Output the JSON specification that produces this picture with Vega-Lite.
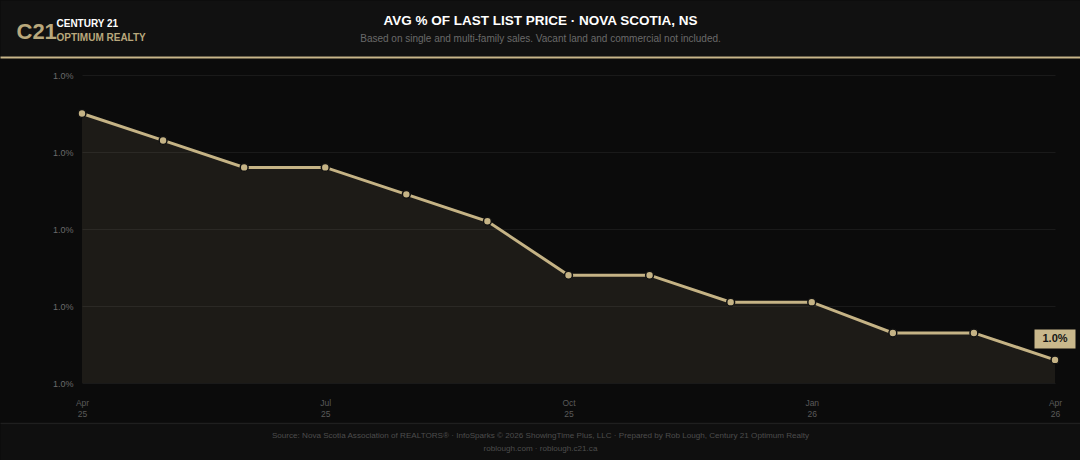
{
  "$schema": "https://vega.github.io/schema/vega-lite/v6.json",
  "width": 973,
  "height": 308,
  "autosize": {"type": "none"},
  "padding": {"left": 82, "top": 75, "right": 25, "bottom": 77},
  "background": "#0b0b0b",
  "config": {"view": {"stroke": null}, "font": "Liberation Sans"},
  "data": {
    "values": [
      {"month": "Apr 25", "pct": 0.010030},
      {"month": "May 25", "pct": 0.010023},
      {"month": "Jun 25", "pct": 0.010016},
      {"month": "Jul 25", "pct": 0.010016},
      {"month": "Aug 25", "pct": 0.010009},
      {"month": "Sep 25", "pct": 0.010002},
      {"month": "Oct 25", "pct": 0.009988},
      {"month": "Nov 25", "pct": 0.009988},
      {"month": "Dec 25", "pct": 0.009981},
      {"month": "Jan 26", "pct": 0.009981},
      {"month": "Feb 26", "pct": 0.009973},
      {"month": "Mar 26", "pct": 0.009973},
      {"month": "Apr 26", "pct": 0.009966}
    ]
  },
  "layer": [
    {
      "layer": [
        {
          "mark": {"type": "area", "color": "#c5b385", "opacity": 0.1},
          "encoding": {
            "x": {
              "field": "month",
              "type": "ordinal",
              "sort": null,
              "scale": {"type": "point", "padding": 0},
              "axis": {
                "orient": "bottom",
                "title": null,
                "labelExpr": "indexof(['Apr 25','Jul 25','Oct 25','Jan 26','Apr 26'], datum.value) >= 0 ? split(datum.value, ' ') : ''",
                "labelAngle": 0,
                "labelOverlap": false,
                "labelFlush": false,
                "labelBound": false,
                "grid": false,
                "domain": false,
                "ticks": false,
                "labelPadding": 15,
                "labelColor": "#5a5a5a",
                "labelFontSize": 8.5,
                "labelLineHeight": 11
              }
            },
            "y": {
              "field": "pct",
              "type": "quantitative",
              "scale": {"domain": [0.00996, 0.01004], "zero": false, "nice": false},
              "axis": {
                "orient": "left",
                "values": [0.00996, 0.00998, 0.01, 0.01002, 0.01004],
                "format": ".1%",
                "grid": true,
                "gridColor": "#1a1a1a",
                "domain": false,
                "ticks": false,
                "labelColor": "#6a6a6a",
                "labelFontSize": 9,
                "labelPadding": 9,
                "title": "C21",
                "titleAngle": 0,
                "titleX": -66,
                "titleY": -37,
                "titleAlign": "left",
                "titleBaseline": "alphabetic",
                "titleFontSize": 22,
                "titleFontWeight": "bold",
                "titleColor": "#b9a87c"
              }
            },
            "y2": {"datum": 0.00996}
          }
        },
        {
          "mark": {"type": "line", "color": "#c5b385", "strokeWidth": 3},
          "encoding": {
            "x": {"field": "month", "type": "ordinal", "sort": null},
            "y": {
              "field": "pct",
              "type": "quantitative",
              "axis": {
                "orient": "left",
                "grid": false,
                "domain": false,
                "ticks": false,
                "labels": false,
                "title": "CENTURY 21",
                "titleAngle": 0,
                "titleX": -26,
                "titleY": -49,
                "titleAlign": "left",
                "titleBaseline": "alphabetic",
                "titleFontSize": 10,
                "titleFontWeight": "bold",
                "titleColor": "#ffffff"
              }
            }
          }
        },
        {
          "mark": {"type": "point", "filled": true, "fill": "#c5b385", "stroke": "#111111", "strokeWidth": 1.5, "size": 62, "opacity": 1},
          "encoding": {
            "x": {"field": "month", "type": "ordinal", "sort": null},
            "y": {
              "field": "pct",
              "type": "quantitative",
              "axis": {
                "orient": "left",
                "grid": false,
                "domain": false,
                "ticks": false,
                "labels": false,
                "title": "OPTIMUM REALTY",
                "titleAngle": 0,
                "titleX": -26,
                "titleY": -35,
                "titleAlign": "left",
                "titleBaseline": "alphabetic",
                "titleFontSize": 10,
                "titleFontWeight": "bold",
                "titleColor": "#b9a87c"
              }
            }
          }
        },
        {
          "transform": [{"filter": "datum.month == 'Apr 26'"}],
          "mark": {"type": "rect", "width": 41, "height": 19, "yOffset": -21, "color": "#c9b88c"},
          "encoding": {
            "x": {"field": "month", "type": "ordinal", "sort": null},
            "y": {"field": "pct", "type": "quantitative", "axis": null}
          }
        },
        {
          "transform": [{"filter": "datum.month == 'Apr 26'"}],
          "mark": {"type": "text", "yOffset": -21, "fontWeight": "bold", "fontSize": 11, "color": "#151515", "baseline": "middle"},
          "encoding": {
            "x": {"field": "month", "type": "ordinal", "sort": null},
            "y": {"field": "pct", "type": "quantitative", "axis": null},
            "text": {"field": "pct", "format": ".1%"}
          }
        }
      ],
      "resolve": {"axis": {"y": "independent"}}
    },
    {
      "mark": {"type": "point", "opacity": 0},
      "encoding": {
        "x": {
          "field": "month",
          "type": "ordinal",
          "sort": null,
          "scale": {"type": "point", "padding": 0, "range": [-82, 998]},
          "axis": {
            "orient": "top",
            "offset": 47,
            "zindex": 0,
            "domainColor": "#111111",
            "domainWidth": 56,
            "ticks": false,
            "labels": false,
            "grid": false,
            "title": "AVG % OF LAST LIST PRICE  ·  NOVA SCOTIA, NS",
            "titleColor": "#ffffff",
            "titleFontSize": 13.5,
            "titleFontWeight": "bold",
            "titleY": -4,
            "titleBaseline": "alphabetic"
          }
        }
      }
    },
    {
      "mark": {"type": "point", "opacity": 0},
      "encoding": {
        "x": {
          "field": "month",
          "type": "ordinal",
          "sort": null,
          "scale": {"type": "point", "padding": 0, "range": [-82, 998]},
          "axis": {
            "orient": "top",
            "offset": 18,
            "zindex": 1,
            "domainColor": "#c8b68a",
            "domainWidth": 2,
            "ticks": false,
            "labels": false,
            "grid": false,
            "title": "Based on single and multi-family sales. Vacant land and commercial not included.",
            "titleColor": "#6a6a6a",
            "titleFontSize": 10,
            "titleFontWeight": "normal",
            "titleY": -16,
            "titleBaseline": "alphabetic"
          }
        }
      }
    },
    {
      "mark": {"type": "point", "opacity": 0},
      "encoding": {
        "x": {
          "field": "month",
          "type": "ordinal",
          "sort": null,
          "scale": {"type": "point", "padding": 0, "range": [-82, 998]},
          "axis": {
            "orient": "bottom",
            "offset": 60,
            "zindex": 0,
            "domainColor": "#0f0f0f",
            "domainWidth": 38,
            "ticks": false,
            "labels": false,
            "grid": false,
            "title": null
          }
        }
      }
    },
    {
      "mark": {"type": "point", "opacity": 0},
      "encoding": {
        "x": {
          "field": "month",
          "type": "ordinal",
          "sort": null,
          "scale": {"type": "point", "padding": 0, "range": [-82, 998]},
          "axis": {
            "orient": "bottom",
            "offset": 40,
            "zindex": 2,
            "domainColor": "#1f1f1f",
            "domainWidth": 1.5,
            "ticks": false,
            "labels": false,
            "grid": false,
            "title": [
              "Source: Nova Scotia Association of REALTORS® · InfoSparks © 2026 ShowingTime Plus, LLC · Prepared by Rob Lough, Century 21 Optimum Realty",
              "roblough.com · roblough.c21.ca"
            ],
            "titleColor": "#4d4d4d",
            "titleFontSize": 8.1,
            "titleFontWeight": "normal",
            "titleLineHeight": 13,
            "titleY": 14,
            "titleBaseline": "alphabetic"
          }
        }
      }
    }
  ],
  "resolve": {"scale": {"x": "independent"}, "axis": {"x": "independent"}}
}
